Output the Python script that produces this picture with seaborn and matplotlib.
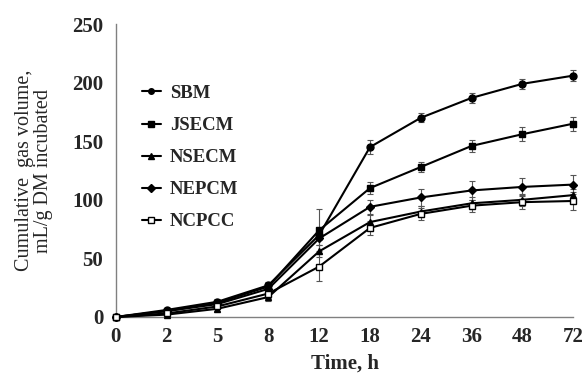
import numpy as np
import pandas as pd
import matplotlib
matplotlib.use("Agg")
import matplotlib.pyplot as plt
import seaborn as sns

# incubation times (shown as evenly spaced categories)
times = ["0", "2", "5", "8", "12", "18", "24", "36", "48", "72"]

sbm = [0, 6, 13, 27, 70, 145, 170, 187, 199, 206]
jsecm = [0, 5, 12, 26, 74, 110, 128, 146, 156, 165]
nsecm = [0, 2, 7, 17, 56, 81, 90, 97, 100, 104]
nepcm = [0, 5, 11, 24, 67, 94, 102, 108, 111, 113]
ncpcc = [0, 3, 9, 20, 43, 76, 88, 95, 98, 99]

sbm_err = [0, 1, 2, 3, 4, 6, 4, 4, 4, 5]
jsecm_err = [0, 1, 2, 3, 18, 5, 4, 5, 6, 6]
nsecm_err = [0, 1, 2, 3, 5, 6, 5, 5, 5, 5]
nepcm_err = [0, 1, 2, 4, 6, 6, 7, 8, 8, 8]
ncpcc_err = [0, 1, 2, 4, 12, 6, 5, 5, 6, 8]

series = {
    "SBM": (sbm, sbm_err, "o", "black"),
    "JSECM": (jsecm, jsecm_err, "s", "black"),
    "NSECM": (nsecm, nsecm_err, "^", "black"),
    "NEPCM": (nepcm, nepcm_err, "D", "black"),
    "NCPCC": (ncpcc, ncpcc_err, "s", "white"),
}

sns.set_theme(style="white")
plt.rcParams["font.family"] = ["Liberation Serif", "DejaVu Serif"]

fig = plt.figure(figsize=(5.85, 3.76), dpi=100)
ax = fig.add_axes([0.198, 0.157, 0.782, 0.779])

pos = np.arange(len(times))
for name, (vals, errs, mk, face) in series.items():
    df = pd.DataFrame({"pos": pos, "val": vals})
    ax.errorbar(pos, vals, yerr=errs, fmt="none", ecolor="#555555",
                elinewidth=0.8, capsize=2, capthick=0.8, zorder=2,
                clip_on=False)
    sns.lineplot(data=df, x="pos", y="val", ax=ax, color="black", lw=1.5,
                 marker=mk, markersize=5 if mk != "D" else 4.5,
                 markerfacecolor=face, markeredgecolor="black",
                 markeredgewidth=1.0, label=name, zorder=3, clip_on=False)

ax.set_xlim(0, 9)
ax.set_ylim(0, 250)
ax.set_xticks(pos)
ax.set_xticklabels(times)
ax.set_yticks(range(0, 251, 50))
for lbl in ax.get_xticklabels() + ax.get_yticklabels():
    lbl.set_fontweight("bold")
    lbl.set_fontsize(15)

for side in ["top", "right"]:
    ax.spines[side].set_visible(False)
for side in ["left", "bottom"]:
    ax.spines[side].set_color("#808080")
    ax.spines[side].set_linewidth(1.0)
ax.tick_params(axis="x", direction="in", length=4, width=1,
               color="#808080", pad=7)
ax.tick_params(axis="y", direction="out", length=3, width=1,
               color="#808080", pad=6)

ax.set_xlabel("Time, h", fontsize=15, fontweight="bold", labelpad=5)
ax.set_ylabel("Cumulative  gas volume,\nmL/g DM incubated", fontsize=14.5,
              labelpad=14, linespacing=1.0)

leg = ax.legend(loc="upper left", bbox_to_anchor=(0.02, 0.85), frameon=False,
                handlelength=1.0, handletextpad=0.5, labelspacing=0.8,
                prop={"family": "Liberation Serif", "weight": "bold", "size": 13.5},
                markerscale=0.8)

fig.savefig("out.png", dpi=100)
